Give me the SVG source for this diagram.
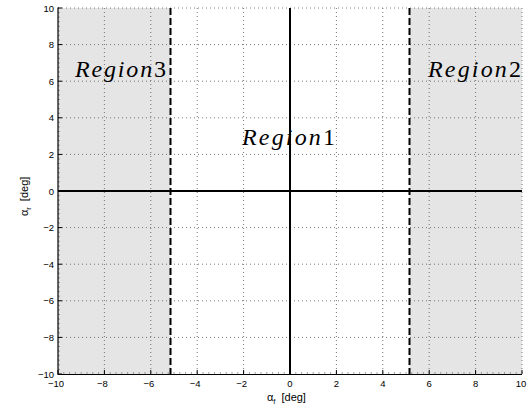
<svg xmlns="http://www.w3.org/2000/svg" width="530" height="411" viewBox="0 0 530 411">
<style>
.grid{stroke:#555;stroke-width:0.8;stroke-dasharray:1 3;fill:none}
.tick{stroke:#000;stroke-width:1}
.minor{stroke:#666;stroke-width:0.6}
.tl{font-family:"Liberation Sans",Arial,sans-serif;font-size:9.5px;fill:#000}
.reg{font-family:"Liberation Serif","Times New Roman",serif;font-size:24px;fill:#000}
.ax{font-family:"Liberation Sans",Arial,sans-serif;font-size:11px;fill:#000}
</style>
<rect width="530" height="411" fill="#fff"/>
<g id="region3-bg"><rect x="58" y="8" width="112.5" height="366" fill="#e5e5e5"/></g>
<g id="region2-bg"><rect x="409.5" y="8" width="112.5" height="366" fill="#e5e5e5"/></g>
<g id="grid">
<path class="grid" d="M58 8H522M58 44.6H522M58 81.2H522M58 117.8H522M58 154.4H522M58 227.6H522M58 264.2H522M58 300.8H522M58 337.4H522"/>
<path class="grid" d="M104.4 8V374M150.8 8V374M197.2 8V374M243.6 8V374M336.4 8V374M382.8 8V374M429.2 8V374M475.6 8V374M522 8V374"/>
</g>
<g id="axes">
<path class="minor" d="M58 12.6h2M58 17.2h2M58 21.7h2M58 26.3h2M58 30.9h2M58 35.4h2M58 40h2M58 49.2h2M58 53.7h2M58 58.3h2M58 62.9h2M58 67.4h2M58 72h2M58 76.6h2M58 85.8h2M58 90.3h2M58 94.9h2M58 99.5h2M58 104h2M58 108.6h2M58 113.2h2M58 122.4h2M58 126.9h2M58 131.5h2M58 136.1h2M58 140.6h2M58 145.2h2M58 149.8h2M58 159h2M58 163.5h2M58 168.1h2M58 172.7h2M58 177.2h2M58 181.8h2M58 186.4h2M58 195.6h2M58 200.1h2M58 204.7h2M58 209.3h2M58 213.8h2M58 218.4h2M58 223h2M58 232.2h2M58 236.7h2M58 241.3h2M58 245.9h2M58 250.4h2M58 255h2M58 259.6h2M58 268.8h2M58 273.3h2M58 277.9h2M58 282.5h2M58 287h2M58 291.6h2M58 296.2h2M58 305.4h2M58 309.9h2M58 314.5h2M58 319.1h2M58 323.6h2M58 328.2h2M58 332.8h2M58 342h2M58 346.5h2M58 351.1h2M58 355.7h2M58 360.2h2M58 364.8h2M58 369.4h2"/>
<path class="minor" d="M63.8 374v-2M69.6 374v-2M75.4 374v-2M81.2 374v-2M87 374v-2M92.8 374v-2M98.6 374v-2M110.2 374v-2M116 374v-2M121.8 374v-2M127.6 374v-2M133.4 374v-2M139.2 374v-2M145 374v-2M156.6 374v-2M162.4 374v-2M168.2 374v-2M174 374v-2M179.8 374v-2M185.6 374v-2M191.4 374v-2M203 374v-2M208.8 374v-2M214.6 374v-2M220.4 374v-2M226.2 374v-2M232 374v-2M237.8 374v-2M249.4 374v-2M255.2 374v-2M261 374v-2M266.8 374v-2M272.6 374v-2M278.4 374v-2M284.2 374v-2M295.8 374v-2M301.6 374v-2M307.4 374v-2M313.2 374v-2M319 374v-2M324.8 374v-2M330.6 374v-2M342.2 374v-2M348 374v-2M353.8 374v-2M359.6 374v-2M365.4 374v-2M371.2 374v-2M377 374v-2M388.6 374v-2M394.4 374v-2M400.2 374v-2M406 374v-2M411.8 374v-2M417.6 374v-2M423.4 374v-2M435 374v-2M440.8 374v-2M446.6 374v-2M452.4 374v-2M458.2 374v-2M464 374v-2M469.8 374v-2M481.4 374v-2M487.2 374v-2M493 374v-2M498.8 374v-2M504.6 374v-2M510.4 374v-2M516.2 374v-2"/>
<path class="tick" d="M58 8h4M58 44.6h4M58 81.2h4M58 117.8h4M58 154.4h4M58 191h4M58 227.6h4M58 264.2h4M58 300.8h4M58 337.4h4M58 374h4"/>
<path class="tick" d="M58 374v-4M104.4 374v-4M150.8 374v-4M197.2 374v-4M243.6 374v-4M290 374v-4M336.4 374v-4M382.8 374v-4M429.2 374v-4M475.6 374v-4M522 374v-4"/>
<path d="M58 7.5V374.5H522" fill="none" stroke="#000" stroke-width="1.2"/>
</g>
<g id="connectors">
<line x1="290" y1="8" x2="290" y2="374" stroke="#000" stroke-width="2"/>
<line x1="58" y1="191" x2="522" y2="191" stroke="#000" stroke-width="2"/>
<line x1="170.5" y1="8" x2="170.5" y2="374" stroke="#000" stroke-width="2" stroke-dasharray="7 3"/>
<line x1="409.5" y1="8" x2="409.5" y2="374" stroke="#000" stroke-width="2" stroke-dasharray="7 3"/>
</g>
<g id="ticklabels" class="tl">
<g text-anchor="end">
<text x="54" y="11.5">10</text><text x="54" y="48">8</text><text x="54" y="84.5">6</text><text x="54" y="121">4</text><text x="54" y="157.5">2</text><text x="54" y="194.5">0</text><text x="54" y="231">−2</text><text x="54" y="267.5">−4</text><text x="54" y="304">−6</text><text x="54" y="340.5">−8</text><text x="54" y="377.5">−10</text>
</g>
<g text-anchor="middle">
<text x="56" y="387">−10</text><text x="102.4" y="387">−8</text><text x="148.8" y="387">−6</text><text x="195.2" y="387">−4</text><text x="241.6" y="387">−2</text><text x="290" y="387">0</text><text x="336.4" y="387">2</text><text x="382.8" y="387">4</text><text x="429.2" y="387">6</text><text x="475.6" y="387">8</text><text x="521" y="387">10</text>
</g>
</g>
<g id="region1"><text class="reg" x="242" y="145" textLength="93" lengthAdjust="spacing"><tspan font-style="italic">Region</tspan>1</text></g>
<g id="region3"><text class="reg" x="75" y="77" textLength="91" lengthAdjust="spacing"><tspan font-style="italic">Region</tspan>3</text></g>
<g id="region2"><text class="reg" x="428" y="77" textLength="93" lengthAdjust="spacing"><tspan font-style="italic">Region</tspan>2</text></g>
<g id="xlabel"><text class="ax" x="267" y="401">α<tspan font-size="7.5px" dy="3">f</tspan><tspan dy="-3" dx="6">[deg]</tspan></text></g>
<g id="ylabel"><text class="ax" transform="translate(28 216) rotate(-90)">α<tspan font-size="7.5px" dy="3">r</tspan><tspan dy="-3" dx="6">[deg]</tspan></text></g>
</svg>
